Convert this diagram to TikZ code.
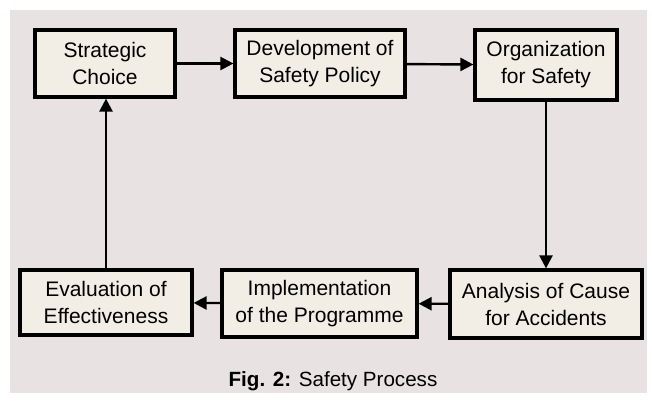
\documentclass[tikz,border=0pt]{standalone}
\usepackage{fontspec}
\setmainfont{Liberation Sans}
\usetikzlibrary{arrows.meta}
\definecolor{panel}{HTML}{E8E2E2}
\definecolor{boxfill}{HTML}{F2EEE6}
\begin{document}
\begin{tikzpicture}[x=1pt,y=-1pt,
  stagebox/.style={draw=black, line width=3.2pt, fill=boxfill, align=center,
    font=\fontsize{21}{27}\selectfont, inner sep=0pt},
  flow/.style={line width=2.4pt, -{Triangle[length=13pt,width=13pt]}}]
  % page and shaded panel
  \useasboundingbox (0,0) rectangle (652,401);
  \fill[white] (0,0) rectangle (652,401);
  \fill[panel] (10,10) rectangle (647,393);

  % process stages
  \node[stagebox, minimum width=140pt, minimum height=67pt] (sc) at (105,63.5) {Strategic\\Choice};
  \node[stagebox, minimum width=170pt, minimum height=67pt] (dsp) at (320,63.5) {Development of\\Safety Policy};
  \node[stagebox, minimum width=142pt, minimum height=70pt] (os) at (546,65) {Organization\\for Safety};
  \node[stagebox, minimum width=192pt, minimum height=68pt] (ac) at (546,304) {Analysis of Cause\\for Accidents};
  \node[stagebox, minimum width=195pt, minimum height=67pt] (ip) at (319.5,303.5) {Implementation\\of the Programme};
  \node[stagebox, minimum width=172pt, minimum height=65pt] (ee) at (106,302.5) {Evaluation of\\Effectiveness};

  % connectors
  \draw[flow] (sc) -- (dsp);
  \draw[flow] (dsp) -- (os);
  \draw[flow] (os.south) -- (os.south |- ac.north);
  \draw[flow] (ac) -- (ip);
  \draw[flow] (ip) -- (ee);
  \draw[flow] (ee.north) -- (ee.north |- sc.south);

  % caption
  \node[font=\fontsize{20.6}{24}\selectfont] (cap) at (333,381) {\textbf{Fig. 2:} Safety Process};
\end{tikzpicture}
\end{document}
